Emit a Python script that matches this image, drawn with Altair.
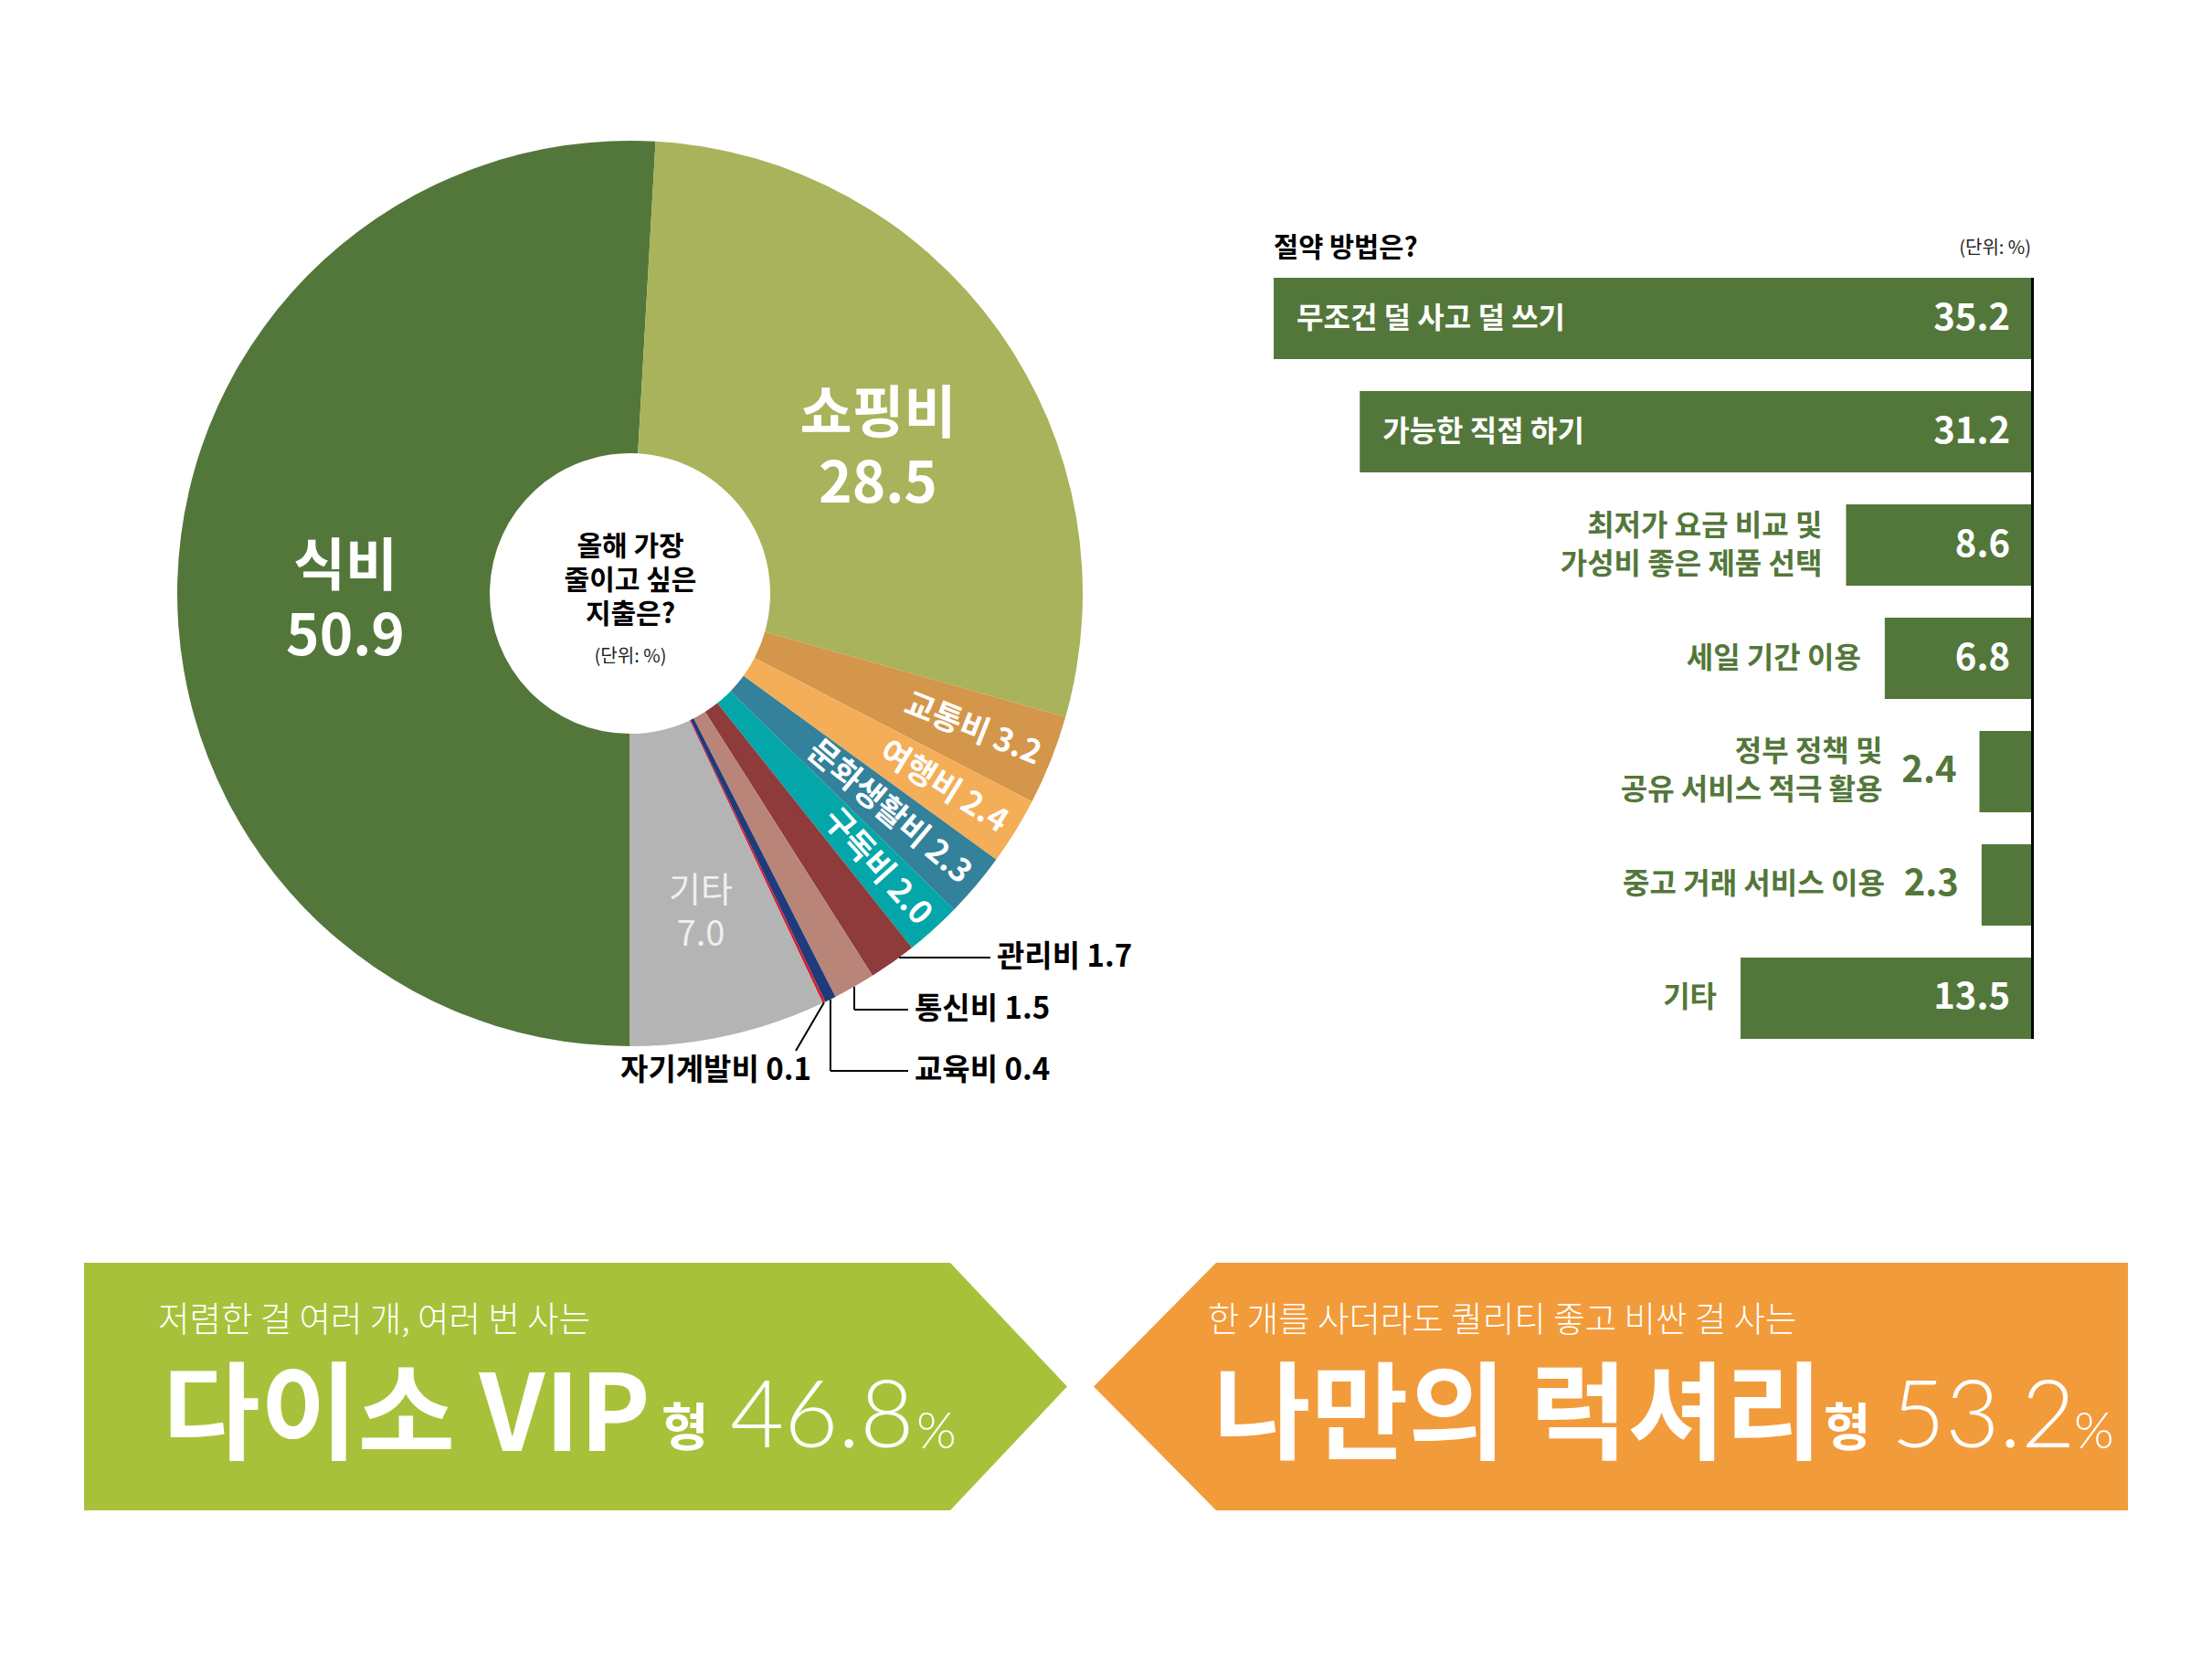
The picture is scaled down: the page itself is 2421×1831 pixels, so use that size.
import math
import altair as alt
import pandas as pd

# ---------------- data ----------------
spend_categories = ["식비", "쇼핑비", "교통비", "여행비", "문화생활비", "구독비",
                    "관리비", "통신비", "교육비", "자기계발비", "기타"]
spend_values = [50.9, 28.5, 3.2, 2.4, 2.3, 2.0, 1.7, 1.5, 0.4, 0.1, 7.0]
spend_colors = ["#53773A", "#A8B35B", "#D4964A", "#F4AE57", "#33819A", "#04A6AA",
                "#8F3A3B", "#B88578", "#1F3B7B", "#D51E2E", "#B3B4B3"]

method_labels = ["무조건 덜 사고 덜 쓰기", "가능한 직접 하기",
                 "최저가 요금 비교 및\n가성비 좋은 제품 선택", "세일 기간 이용",
                 "정부 정책 및\n공유 서비스 적극 활용", "중고 거래 서비스 이용", "기타"]
method_values = [35.2, 31.2, 8.6, 6.8, 2.4, 2.3, 13.5]

type_names = ["다이소 VIP", "나만의 럭셔리"]
type_descs = ["저렴한 걸 여러 개, 여러 번 사는", "한 개를 사더라도 퀄리티 좋고 비싼 걸 사는"]
type_shares = [46.8, 53.2]

pie_title = "올해 가장\n줄이고 싶은\n지출은?"
bar_title = "절약 방법은?"
unit_text = "(단위: %)"

# ---------------- style ----------------
FONT = "Noto Sans CJK KR"
LIGHT = "Lato"
GREEN = "#53773A"
LIME = "#A7C23A"
ORANGE = "#F29B3B"
W, H = 2405, 1815
CX, CY = 681.5, 641.5
R_IN, R_OUT = 153.5, 495.5

# ---------------- pie ----------------
pie = pd.DataFrame({"cat": spend_categories, "value": spend_values})
pie["idx"] = range(len(pie))
cum = pie["value"].cumsum()
pie["mid_deg"] = (180 + 3.6 * (cum - pie["value"] / 2)) % 360
rotated = ["교통비", "여행비", "문화생활비", "구독비"]
pie["rot_text"] = [f"{c} {v:.1f}" if c in rotated else "" for c, v in zip(pie.cat, pie.value)]
pie["rot_angle"] = pie["mid_deg"] - 90
pie["big"] = [f"{c}\n{v:.1f}" for c, v in zip(pie.cat, pie.value)]
pie["lead"] = [f"{c} {v:.1f}" for c, v in zip(pie.cat, pie.value)]

theta = alt.Theta("value:Q", stack=True, scale=alt.Scale(range=[math.pi, 3 * math.pi]))
pie_base = alt.Chart(pie).encode(theta=theta, order=alt.Order("idx:Q"),
                                 x=alt.value(CX), y=alt.value(CY))
arcs = pie_base.mark_arc(innerRadius=R_IN, outerRadius=R_OUT).encode(
    color=alt.Color("cat:N", scale=alt.Scale(domain=spend_categories, range=spend_colors), legend=None))
rot_labels = pie_base.mark_text(radius=482, align="right", baseline="middle", font=FONT,
                                fontSize=35, fontWeight="bold", color="white").encode(
    text="rot_text:N", angle=alt.Angle("rot_angle:Q", scale=None))


def big_label(cat, x, y, **kw):
    # y is the position of the first line
    return (alt.Chart(pie).transform_filter(alt.datum.cat == cat)
            .mark_text(align="center", baseline="middle", lineBreak="\n", font=FONT, **kw)
            .encode(x=alt.value(x), y=alt.value(y), text="big:N"))


big_labels = [
    big_label("식비", 370, 614, fontSize=62, fontWeight="bold", color="white", lineHeight=76),
    big_label("쇼핑비", 953, 447, fontSize=62, fontWeight="bold", color="white", lineHeight=76),
    big_label("기타", 759, 968, fontSize=38, fontWeight="normal", color="#EFEFEF", lineHeight=48),
]

# leader lines (annotation layout)
leader_layout = {
    "관리비": dict(tx=1083, ty=1040, align="left", kind="h"),
    "통신비": dict(tx=993, ty=1097, align="left", kind="elbow"),
    "교육비": dict(tx=993, ty=1164, align="left", kind="elbow"),
    "자기계발비": dict(tx=880, ty=1164, align="right", kind="slant", end=(863, 1142)),
}
segs = []
lead_rows = []
for cat, lay in leader_layout.items():
    row = pie[pie.cat == cat].iloc[0]
    a = math.radians(row.mid_deg)
    ex, ey = CX + R_OUT * math.sin(a), CY - R_OUT * math.cos(a)
    tx, ty = lay["tx"], lay["ty"]
    if lay["kind"] == "h":
        x1 = CX + math.sqrt(R_OUT ** 2 - (ty - CY) ** 2)
        segs.append((x1, ty, tx - 7, ty))
    elif lay["kind"] == "elbow":
        segs.append((ex, ey, ex, ty))
        segs.append((ex, ty, tx - 7, ty))
    else:
        segs.append((ex, ey) + lay["end"])
    lead_rows.append(dict(text=row.lead, tx=tx, ty=ty, align=lay["align"]))
seg_df = pd.DataFrame(segs, columns=["x", "y", "x2", "y2"])
lead_df = pd.DataFrame(lead_rows)

leader_lines = alt.Chart(seg_df).mark_rule(color="black", strokeWidth=2).encode(
    x=alt.X("x:Q", scale=None), y=alt.Y("y:Q", scale=None), x2="x2:Q", y2="y2:Q")
lead_text = []
for al in ["left", "right"]:
    lead_text.append(
        alt.Chart(lead_df).transform_filter(alt.datum.align == al)
        .mark_text(align=al, baseline="middle", font=FONT, fontSize=33, fontWeight="bold", color="black")
        .encode(x=alt.X("tx:Q", scale=None), y=alt.Y("ty:Q", scale=None), text="text:N"))

center_df = pd.DataFrame({"t": [pie_title], "u": [unit_text], "b": [bar_title]})
center_q = alt.Chart(center_df).mark_text(align="center", baseline="middle", lineBreak="\n", font=FONT,
                                          fontSize=30, fontWeight="bold", color="black",
                                          lineHeight=37).encode(x=alt.value(682), y=alt.value(591), text="t:N")
center_u = alt.Chart(center_df).mark_text(align="center", baseline="middle", font=FONT, fontSize=20,
                                          color="#222222").encode(x=alt.value(682), y=alt.value(711), text="u:N")

# ---------------- bars ----------------
bars_df = pd.DataFrame({"method": method_labels, "value": method_values})
PX = 23.55
xs = alt.Scale(domain=[0, 40], range=[2215, 2215 - 40 * PX])
ys = alt.Scale(type="band", domain=method_labels, range=[296, 1129], paddingInner=0.282, paddingOuter=0)
bx = alt.X("value:Q", scale=xs, axis=None)
by = alt.Y("method:N", scale=ys, axis=None, sort=None)
zx = alt.X("zero:Q", scale=xs, axis=None)

MULTI = "indexof(datum.method, '\\n') >= 0"
SINGLE = "indexof(datum.method, '\\n') < 0"

bars = alt.Chart(bars_df).mark_bar(color=GREEN).encode(x=bx, y=by)
lab_kw = dict(baseline="middle", font=FONT, fontSize=32, fontWeight="bold", lineBreak="\n", lineHeight=42)
val_kw = dict(baseline="middle", font=FONT, fontSize=40, fontWeight="bold")


def bar_labels(cond, dx, align, color):
    out = []
    for sel, dy in [(SINGLE, 0), (MULTI, -21)]:
        out.append(alt.Chart(bars_df).transform_filter(cond).transform_filter(sel).mark_text(
            align=align, dx=dx, dy=dy, color=color, **lab_kw).encode(x=bx, y=by, text="method:N"))
    return out


label_layers = (bar_labels("datum.value >= 30", 25, "left", "white")
                + bar_labels("datum.value >= 5 && datum.value < 30", -26, "right", GREEN)
                + bar_labels("datum.value < 5", -106, "right", GREEN))
val_in = alt.Chart(bars_df).transform_filter("datum.value >= 5").transform_calculate(zero="0").mark_text(
    align="right", dx=-23, color="white", **val_kw).encode(x=zx, y=by, text=alt.Text("value:Q", format=".1f"))
val_out = alt.Chart(bars_df).transform_filter("datum.value < 5").mark_text(
    align="right", dx=-25, color=GREEN, **val_kw).encode(x=bx, y=by, text=alt.Text("value:Q", format=".1f"))
axis_line = alt.Chart(center_df).transform_calculate(zero="0").mark_rule(
    color="black", strokeWidth=3, xOffset=1.5).encode(x=zx, y=alt.value(296), y2=alt.value(1129))
bar_title_t = alt.Chart(center_df).mark_text(align="left", baseline="middle", font=FONT, fontSize=29.5,
                                             fontWeight="bold", color="black").encode(
    x=alt.value(1386), y=alt.value(264), text="b:N")
bar_unit_t = alt.Chart(center_df).mark_text(align="right", baseline="middle", font=FONT, fontSize=20,
                                            color="#222222").encode(
    x=alt.value(2215), y=alt.value(264), text="u:N")

# ---------------- banners ----------------
types_df = pd.DataFrame({"name": type_names, "desc": type_descs, "share": type_shares, "idx": [0, 1]})
P_LEFT = "M -1 -0.2519 L 0.7621 -0.2519 L 1 0 L 0.7621 0.2519 L -1 0.2519 Z"
P_RIGHT = "M 1 -0.2394 L -0.7633 -0.2394 L -1 0 L -0.7633 0.2394 L 1 0.2394 Z"
banner_specs = [
    dict(idx=0, shape=P_LEFT, size=1076 ** 2, cx=622, color=LIME,
         desc_x=165, name_x=170, hyung_x=716, share_x=791, pct_x=995),
    dict(idx=1, shape=P_RIGHT, size=1132 ** 2, cx=1755, color=ORANGE,
         desc_x=1314, name_x=1320, hyung_x=1988, share_x=2062, pct_x=2262),
]
banners = []
for b in banner_specs:
    src = alt.Chart(types_df).transform_filter(alt.datum.idx == b["idx"])
    banners.append(src.mark_point(shape=b["shape"], size=b["size"], filled=True, color=b["color"],
                                  opacity=1, strokeWidth=0).encode(x=alt.value(b["cx"]), y=alt.value(1509.5)))
    banners.append(src.mark_text(align="left", baseline="middle", font=FONT, fontSize=37.5, fontWeight=300,
                                 color="white").encode(x=alt.value(b["desc_x"]), y=alt.value(1438), text="desc:N"))
    banners.append(src.mark_text(align="left", baseline="alphabetic", font=FONT, fontSize=116, fontWeight="bold",
                                 color="white").encode(x=alt.value(b["name_x"]), y=alt.value(1580), text="name:N"))
    banners.append(src.mark_text(text="형", align="left", baseline="alphabetic", font=FONT, fontSize=56,
                                 fontWeight="bold", color="white").encode(x=alt.value(b["hyung_x"]), y=alt.value(1574)))
    banners.append(src.mark_text(align="left", baseline="alphabetic", font=LIGHT, fontSize=102, fontWeight=300,
                                 color="white").encode(x=alt.value(b["share_x"]), y=alt.value(1576),
                                                       text=alt.Text("share:Q", format=".1f")))
    banners.append(src.mark_text(text="%", align="left", baseline="alphabetic", font=LIGHT, fontSize=56,
                                 fontWeight=300, color="white").encode(x=alt.value(b["pct_x"]), y=alt.value(1577)))

layers = ([arcs, rot_labels] + big_labels + [leader_lines] + lead_text + [center_q, center_u]
          + [bars] + label_layers + [val_in, val_out, axis_line, bar_title_t, bar_unit_t]
          + banners)

chart = (alt.layer(*layers)
         .resolve_scale(x="independent", y="independent")
         .properties(width=W, height=H, autosize=alt.AutoSizeParams(type="none"), padding=0)
         .configure_view(stroke=None))

chart.save("out.html", embed_options={"renderer": "svg", "actions": False})
